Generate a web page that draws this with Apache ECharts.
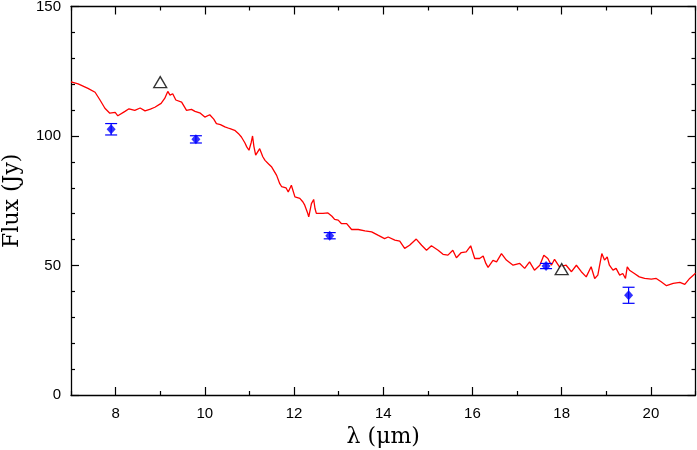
<!DOCTYPE html>
<html>
<head>
<meta charset="utf-8">
<script src="https://cdn.jsdelivr.net/npm/echarts@6/dist/echarts.min.js"></script>
<style>html,body{margin:0;padding:0;background:#fff;}#c{width:697px;height:450px;}</style>
</head>
<body>
<div id="c"></div>
<script>
// Spectrum (red line)
var specX = [7.00,7.16,7.38,7.54,7.65,7.76,7.87,7.99,8.05,8.21,8.30,8.43,8.55,8.66,8.78,8.88,9.02,9.10,9.17,9.22,9.28,9.35,9.48,9.59,9.70,9.78,9.90,10.00,10.11,10.20,10.26,10.35,10.45,10.55,10.67,10.75,10.82,10.90,10.94,10.99,11.04,11.07,11.10,11.14,11.23,11.30,11.35,11.43,11.50,11.61,11.68,11.72,11.76,11.82,11.87,11.94,12.02,12.13,12.20,12.24,12.30,12.33,12.39,12.44,12.47,12.50,12.65,12.76,12.85,12.91,12.99,13.06,13.18,13.29,13.44,13.59,13.74,13.88,14.03,14.11,14.26,14.37,14.48,14.59,14.74,14.86,14.97,15.08,15.23,15.34,15.45,15.56,15.64,15.75,15.86,15.96,16.05,16.16,16.24,16.30,16.35,16.46,16.54,16.65,16.76,16.91,17.06,17.17,17.28,17.39,17.51,17.60,17.69,17.77,17.84,17.95,18.10,18.22,18.33,18.44,18.55,18.66,18.74,18.81,18.90,18.96,19.02,19.07,19.15,19.22,19.30,19.37,19.43,19.47,19.52,19.63,19.74,19.86,20.01,20.12,20.23,20.35,20.50,20.65,20.76,20.87,21.00];
var specY = [120.9,120.1,118.4,116.9,113.9,110.7,108.8,109.1,107.8,109.5,110.5,109.9,110.8,109.7,110.4,111.1,112.6,114.5,117.2,115.8,116.3,113.9,113.1,109.9,110.3,109.5,108.8,107.3,108.2,106.5,104.8,104.4,103.5,102.9,102.2,101.0,99.6,97.3,95.8,94.5,97.5,100.0,96.0,92.6,95.1,92.0,90.6,89.2,88.0,84.8,81.6,80.5,81.0,80.0,78.4,81.0,76.5,75.9,74.5,73.3,70.5,68.8,73.9,75.5,72.0,70.1,70.1,70.3,69.0,67.8,67.5,66.2,66.2,63.9,63.9,63.4,63.0,61.7,60.4,61.0,59.8,59.4,56.6,57.8,60.2,57.8,55.9,57.6,55.9,54.3,54.0,55.9,53.0,55.0,55.3,57.6,52.7,52.7,53.7,50.8,49.3,52.0,51.4,54.6,52.1,50.1,50.8,48.9,51.4,48.2,50.1,54.0,52.7,50.1,52.4,49.5,50.1,47.6,50.1,47.6,45.6,49.5,45.0,46.3,54.6,52.1,53.3,50.1,48.2,48.9,46.3,46.9,45.0,49.5,48.2,46.9,45.6,45.0,44.7,45.0,43.7,42.2,43.1,43.5,42.7,45.0,47.0];

// Photometry points with error bars (blue)
var photX = [7.9, 9.8, 12.8, 17.65, 19.5];
var photY = [102.6, 98.7, 61.5, 49.8, 38.5];
var photErr = [2.2, 1.4, 1.2, 1.0, 3.1];

// Open triangles
var triX = [9.0, 18.0];
var triY = [120.8, 48.6];

// Ticks
var xMajor = [8, 10, 12, 14, 16, 18, 20];
var xMinor = [7, 9, 11, 13, 15, 17, 19, 21];
var yMajor = [0, 50, 100, 150];
var yMinor = [10, 20, 30, 40, 60, 70, 80, 90, 110, 120, 130, 140];

var chart = echarts.init(document.getElementById('c'), null, {renderer: 'canvas'});

function xAx(pos, ticks, len, labels, showLine, name) {
  return {
    type: 'value', position: pos, min: 7, max: 21,
    splitLine: {show: false},
    axisLine: {show: showLine, onZero: false, lineStyle: {color: '#000', width: 1.3}},
    axisTick: {show: true, inside: true, length: len, customValues: ticks, lineStyle: {color: '#000', width: 1.2}},
    axisLabel: labels ? {show: true, customValues: xMajor, margin: 11, color: '#000', fontSize: 15, fontFamily: 'Liberation Sans'} : {show: false},
    name: name || '', nameLocation: 'middle', nameGap: 30,
    nameTextStyle: {fontFamily: 'DejaVu Serif', fontSize: 22, color: '#000'}
  };
}
function yAx(pos, ticks, len, labels, showLine, name) {
  return {
    type: 'value', position: pos, min: 0, max: 150,
    splitLine: {show: false},
    axisLine: {show: showLine, onZero: false, lineStyle: {color: '#000', width: 1.3}},
    axisTick: {show: true, inside: true, length: len, customValues: ticks, lineStyle: {color: '#000', width: 1.2}},
    axisLabel: labels ? {show: true, customValues: yMajor, margin: 10, color: '#000', fontSize: 15, fontFamily: 'Liberation Sans'} : {show: false},
    name: name || '', nameLocation: 'middle', nameGap: 48, nameRotate: 90,
    nameTextStyle: {fontFamily: 'DejaVu Serif', fontSize: 22, color: '#000'}
  };
}

var spec = specX.map(function (x, i) { return [x, specY[i]]; });
var phot = photX.map(function (x, i) { return [x, photY[i]]; });
var errs = photX.map(function (x, i) { return [x, photY[i] - photErr[i], photY[i] + photErr[i]]; });
var tris = triX.map(function (x, i) { return [x, triY[i]]; });

chart.setOption({
  animation: false,
  backgroundColor: '#fff',
  grid: {left: 71, right: 1.5, top: 6.5, bottom: 55, containLabel: false, outerBoundsMode: 'none'},
  xAxis: [
    xAx('bottom', xMajor, 8, true, true, 'λ (μm)'),
    xAx('bottom', xMinor, 4, false, false),
    xAx('top', xMajor, 8, false, true),
    xAx('top', xMinor, 4, false, false)
  ],
  yAxis: [
    yAx('left', yMajor, 8, true, true, 'Flux (Jy)'),
    yAx('left', yMinor, 4, false, false),
    yAx('right', yMajor, 8, false, true),
    yAx('right', yMinor, 4, false, false)
  ],
  series: [
    {
      type: 'line', data: spec, xAxisIndex: 0, yAxisIndex: 0,
      showSymbol: false, symbol: 'none',
      lineStyle: {color: '#ff0000', width: 1.3}, z: 2
    },
    {
      type: 'custom', xAxisIndex: 0, yAxisIndex: 0, data: errs, z: 3,
      renderItem: function (params, api) {
        var x = api.value(0);
        var lo = api.coord([x, api.value(1)]);
        var hi = api.coord([x, api.value(2)]);
        var w = 6;
        var st = {stroke: '#0000ff', lineWidth: 1.2, fill: null};
        return {type: 'group', children: [
          {type: 'line', shape: {x1: lo[0], y1: lo[1], x2: hi[0], y2: hi[1]}, style: st},
          {type: 'line', shape: {x1: lo[0] - w, y1: lo[1], x2: lo[0] + w, y2: lo[1]}, style: st},
          {type: 'line', shape: {x1: hi[0] - w, y1: hi[1], x2: hi[0] + w, y2: hi[1]}, style: st}
        ]};
      },
      encode: {x: 0, y: [1, 2]}
    },
    {
      type: 'scatter', data: phot, xAxisIndex: 0, yAxisIndex: 0, z: 4,
      symbol: 'diamond', symbolSize: [9, 10],
      itemStyle: {color: '#0000ff'}
    },
    {
      type: 'scatter', data: tris, xAxisIndex: 0, yAxisIndex: 0, z: 4,
      symbol: 'triangle', symbolSize: [13, 11],
      itemStyle: {color: '#fff', borderColor: '#000', borderWidth: 1.3}
    }
  ]
});
</script>
</body>
</html>
